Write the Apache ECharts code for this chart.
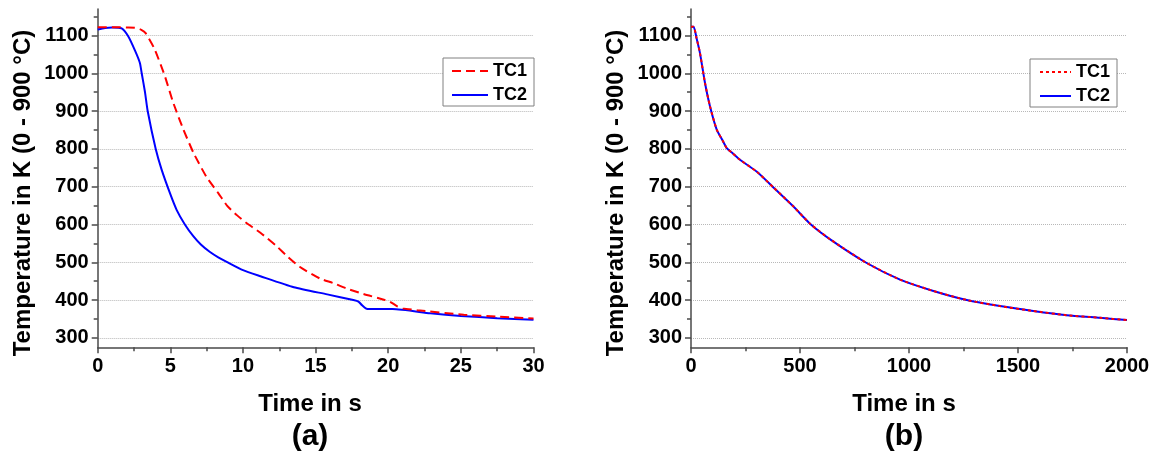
<!DOCTYPE html>
<html lang="en">
<head>
    <meta charset="UTF-8">
    <title>Temperature TC1 / TC2</title>
    <script src="https://cdn.jsdelivr.net/npm/echarts@6/dist/echarts.min.js"></script>
    <style>
        html, body { margin: 0; padding: 0; background: #fff; }
        #main { width: 1152px; height: 462px; }
    </style>
</head>
<body>
<div id="main"></div>
<script type="text/javascript">
    // (a) first 30 s
    var timeA1 = [0, 1, 2, 2.6, 3.0, 3.3, 3.9, 4.6, 5.2, 5.9, 6.6, 7.5, 8.3, 8.9, 9.6, 10.2, 11.2, 12.3, 13.1, 13.9, 15.3, 16.2, 17.1, 18.3, 19.7, 20.1, 20.6, 21.0, 22.0, 25.2, 27.5, 30];
    var tc1A = [1122, 1122, 1121, 1120, 1115, 1106, 1065, 995, 922, 851, 789, 725, 683, 650, 624, 605, 578, 543, 514, 488, 457, 445, 431, 416, 401, 396, 384, 378, 373, 361, 356, 351];
    var timeA2 = [0, 0.5, 1.0, 1.65, 2.1, 2.57, 2.9, 3.03, 3.26, 3.44, 3.99, 4.4, 5.0, 5.44, 6.0, 6.58, 7.1, 7.73, 8.3, 8.88, 10.0, 11.2, 13.5, 15.8, 17.6, 17.95, 18.2, 18.45, 18.7, 20.3, 22.9, 25.0, 27.5, 30];
    var tc2A = [1116, 1120, 1121, 1119, 1098, 1060, 1028, 1000, 949, 900, 800, 745, 680, 638, 600, 569, 547, 527, 513, 501, 479, 463, 434, 415, 400, 396, 386, 378, 376, 376, 365, 358, 352, 348];

    // (b) full 2000 s (TC1 and TC2 lie on top of each other)
    var timeB = [0, 12, 25, 41, 64, 87, 118, 145, 164, 190, 225, 301, 378, 469, 546, 640, 806, 959, 1112, 1265, 1417, 1570, 1723, 1876, 2000];
    var tc1B = [1123, 1123, 1094, 1054, 975, 913, 851, 822, 802, 789, 771, 740, 698, 648, 602, 560, 498, 454, 424, 400, 384, 371, 360, 353, 347];
    var tc2B = [1123, 1123, 1094, 1054, 975, 913, 851, 822, 802, 789, 771, 740, 698, 648, 602, 560, 498, 454, 424, 400, 384, 371, 360, 353, 347];

    var yTicks = [300, 400, 500, 600, 700, 800, 900, 1000, 1100];
    var yMinorTicks = [350, 450, 550, 650, 750, 850, 950, 1050, 1150];
    var yTitle = 'Temperature in K (0 - 900 °C)';
    var xTitle = 'Time in s';

    var fontFam = '"Liberation Sans", Arial, sans-serif';
    var axisCol = '#4a4a4a';

    function zip(xs, ys) {
        var out = [];
        for (var i = 0; i < xs.length; i++) out.push([xs[i], ys[i]]);
        return out;
    }
    function plain(v) { return String(v); }

    function xAxisFor(grid, max, step) {
        return {
            type: 'value', gridIndex: grid, min: 0, max: max, interval: step,
            axisLine: {show: true, onZero: false, lineStyle: {color: axisCol, width: 1.5}},
            axisTick: {show: true, length: 6, lineStyle: {color: axisCol, width: 1.5}},
            minorTick: {show: true, splitNumber: 2, length: 4, lineStyle: {color: axisCol, width: 1.5}},
            axisLabel: {fontSize: 20, fontWeight: 'bold', color: '#000', fontFamily: fontFam, margin: 9, formatter: plain},
            splitLine: {show: false}
        };
    }
    function yAxisFor(grid) {
        return {
            type: 'value', gridIndex: grid, min: 275, max: 1170, position: 'left',
            axisLine: {show: true, onZero: false, lineStyle: {color: axisCol, width: 1.5}},
            axisTick: {show: true, length: 6, customValues: yTicks, lineStyle: {color: axisCol, width: 1.5}},
            axisLabel: {customValues: yTicks, fontSize: 20, fontWeight: 'bold', color: '#000', fontFamily: fontFam, margin: 9, formatter: plain},
            splitLine: {show: true, lineStyle: {color: '#b8b8b8', type: 'dotted', width: 1}}
        };
    }
    // second y axis only for the short ticks in between
    function yMinorFor(grid) {
        return {
            type: 'value', gridIndex: grid, min: 275, max: 1170, position: 'left', offset: 0,
            axisLine: {show: false, onZero: false},
            axisTick: {show: true, length: 4, customValues: yMinorTicks, lineStyle: {color: axisCol, width: 1.5}},
            axisLabel: {show: false, customValues: yMinorTicks},
            splitLine: {show: false}
        };
    }
    function legendFor(left, top, w, dash, padLeft) {
        return {
            orient: 'vertical', left: left, top: top,
            padding: [3, 7, 1, padLeft], itemGap: 4, itemWidth: w, itemHeight: 14,
            borderColor: '#808080', borderWidth: 1, backgroundColor: '#fff',
            textStyle: {fontSize: 18, fontWeight: 'bold', color: '#000', fontFamily: fontFam, lineHeight: 20},
            itemStyle: {opacity: 0},
            data: [
                {name: 'TC1', lineStyle: {type: dash, color: '#ff0000', width: 2}},
                {name: 'TC2', lineStyle: {type: 'solid', color: '#0000ff', width: 2}}
            ]
        };
    }
    function lineSeries(name, xi, yi, data, color, dash, z) {
        return {
            name: name, type: 'line', xAxisIndex: xi, yAxisIndex: yi,
            data: data, showSymbol: false, symbol: 'none', smooth: 0.2, z: z,
            lineStyle: {color: color, width: 2, type: dash},
            itemStyle: {color: color}
        };
    }
    function txt(x, y, s, size, rot) {
        return {
            type: 'text', x: x, y: y, rotation: rot || 0,
            style: {
                text: s, font: 'bold ' + size + 'px ' + fontFam, fill: '#000',
                textAlign: 'center', textVerticalAlign: 'middle', align: 'center', verticalAlign: 'middle'
            }
        };
    }

    var myChart = echarts.init(document.getElementById('main'), null, {renderer: 'canvas'});
    var option = {
        animation: false,
        backgroundColor: '#fff',
        grid: [
            {left: 97.7, right: 618.5, top: 9, bottom: 114.7, outerBoundsMode: 'none'},
            {left: 691, right: 25, top: 9, bottom: 114.7, outerBoundsMode: 'none'}
        ],
        xAxis: [xAxisFor(0, 30, 5), xAxisFor(1, 2000, 500)],
        yAxis: [yAxisFor(0), yMinorFor(0), yAxisFor(1), yMinorFor(1)],
        legend: [
            legendFor(443, 58, 36, [9, 5], 8),
            legendFor(1030, 59, 31, [3, 3], 9)
        ],
        graphic: [
            txt(23, 193, yTitle, 24, Math.PI / 2),
            txt(616, 193, yTitle, 24, Math.PI / 2),
            txt(310, 404, xTitle, 24),
            txt(904, 404, xTitle, 24),
            txt(310, 437, '(a)', 30),
            txt(904, 437, '(b)', 30)
        ],
        series: [
            lineSeries('TC2', 0, 0, zip(timeA2, tc2A), '#0000ff', 'solid', 2),
            lineSeries('TC1', 0, 0, zip(timeA1, tc1A), '#ff0000', [9, 5], 3),
            lineSeries('TC2', 1, 2, zip(timeB, tc2B), '#0000ff', 'solid', 2),
            lineSeries('TC1', 1, 2, zip(timeB, tc1B), '#ff0000', [3, 3], 3)
        ]
    };
    myChart.setOption(option);
</script>
</body>
</html>
